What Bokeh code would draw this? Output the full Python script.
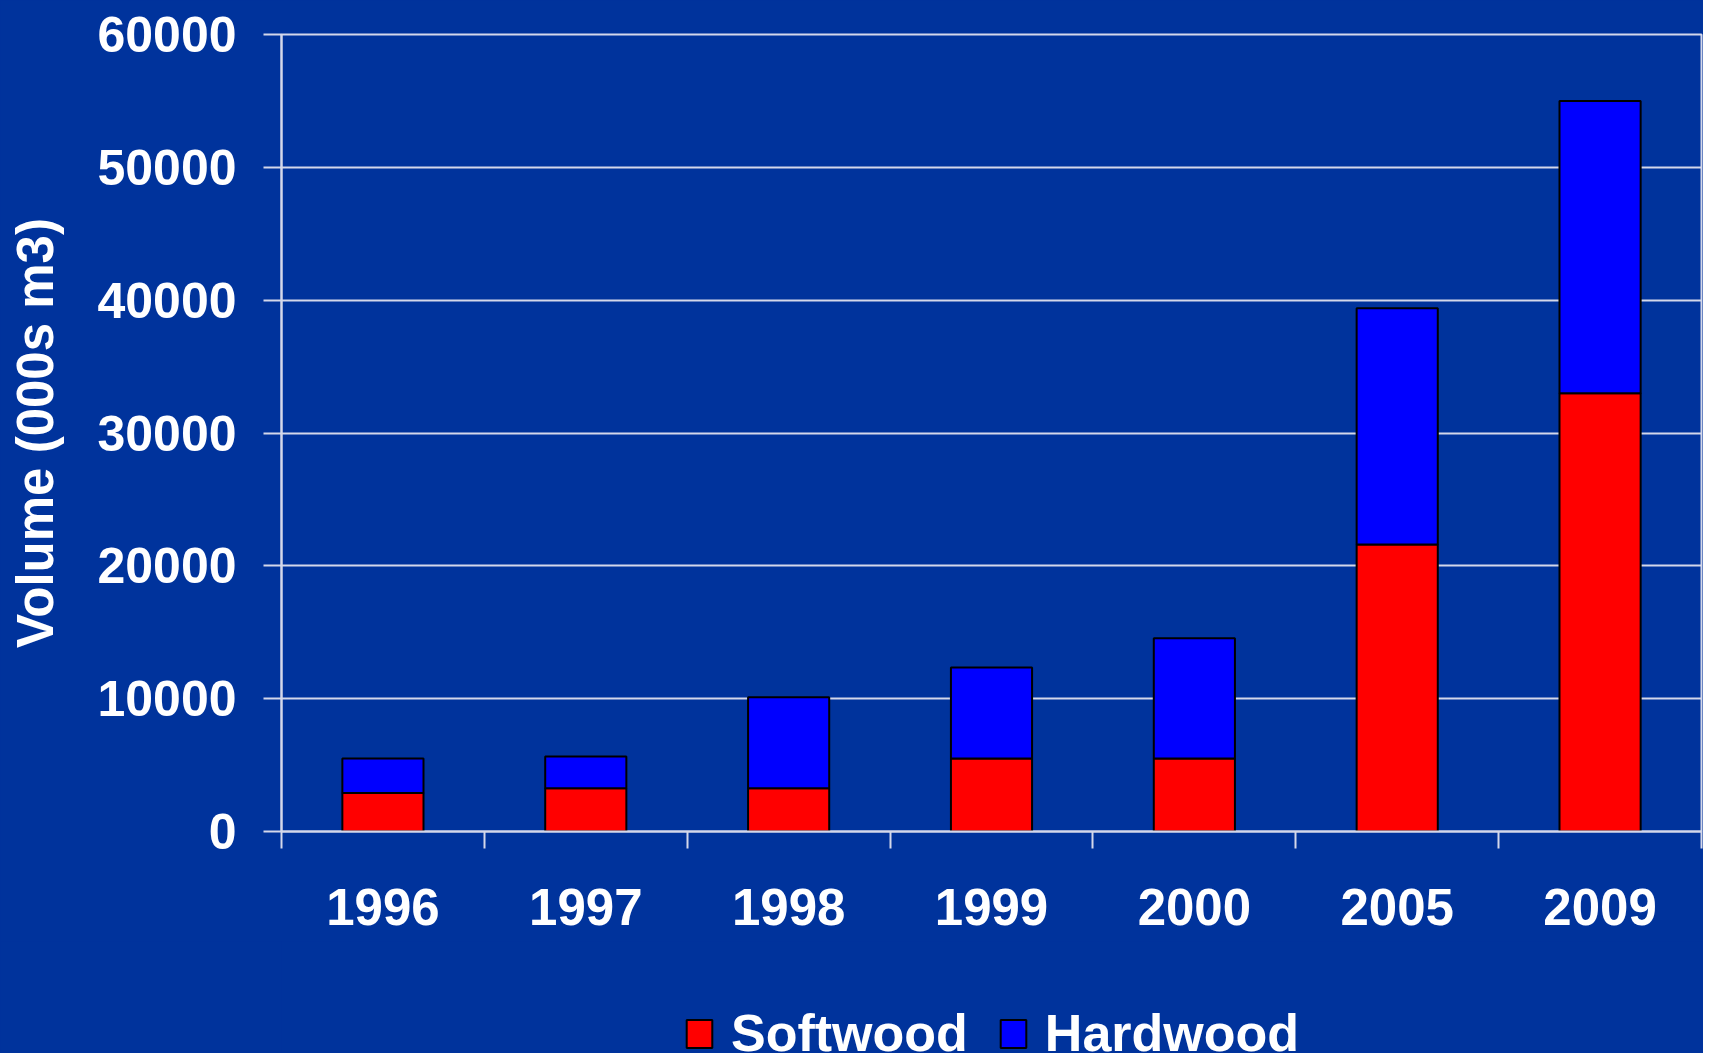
from bokeh.plotting import figure
from bokeh.layouts import column
from bokeh.models import ColumnDataSource, Range1d, FixedTicker, NumeralTickFormatter, Legend
from bokeh.embed import file_html
from bokeh.resources import INLINE

years = ["1996", "1997", "1998", "1999", "2000", "2005", "2009"]
softwood = [2900, 3250, 3250, 5500, 5500, 21600, 33000]
hardwood = [2600, 2400, 6850, 6850, 9050, 17800, 22000]
y_ticks = [0, 10000, 20000, 30000, 40000, 50000, 60000]
series = ["Softwood", "Hardwood"]
colors = ["#FF0000", "#0000FF"]

BG = "#00339C"
FG = "#FFFFFF"
GRID = "#D4D8EA"
FONT = "Liberation Sans"

n = len(years)
centers = [i + 0.5 for i in range(n)]
bounds = list(range(n + 1))

source = ColumnDataSource(dict(x=centers, Softwood=softwood, Hardwood=hardwood))

p = figure(frame_width=1420, frame_height=797, output_backend="svg", toolbar_location=None,
           x_range=Range1d(0, n), y_range=Range1d(0, 60000),
           min_border_left=281, min_border_top=34, min_border_right=2, min_border_bottom=110)
p.background_fill_color = BG
p.border_fill_color = BG
p.outline_line_color = GRID
p.outline_line_width = 2

p.vbar_stack(series, x="x", width=0.4, source=source,
             fill_color=colors, line_color="black", line_width=2)

# y axis
p.yaxis.ticker = FixedTicker(ticks=y_ticks)
p.yaxis.formatter = NumeralTickFormatter(format="0")
p.yaxis.axis_label = "Volume (000s m3)"
p.yaxis.axis_label_text_font = FONT
p.yaxis.axis_label_text_font_style = "bold"
p.yaxis.axis_label_text_font_size = "51px"
p.yaxis.axis_label_text_color = FG
p.yaxis.axis_label_standoff = 30
p.yaxis.major_label_text_font = FONT
p.yaxis.major_label_text_font_style = "bold"
p.yaxis.major_label_text_font_size = "50px"
p.yaxis.major_label_text_color = FG
p.yaxis.major_label_standoff = 27
p.yaxis.major_tick_out = 18
p.yaxis.major_tick_in = 0
p.yaxis.major_tick_line_color = GRID
p.yaxis.major_tick_line_width = 2
p.yaxis.minor_tick_line_color = None
p.yaxis.axis_line_color = GRID
p.yaxis.axis_line_width = 2

# x axis: labels at centers, ticks at category boundaries
p.xaxis.ticker = FixedTicker(ticks=centers, minor_ticks=bounds)
p.xaxis.major_label_overrides = {c: y for c, y in zip(centers, years)}
p.xaxis.major_label_text_font = FONT
p.xaxis.major_label_text_font_style = "bold"
p.xaxis.major_label_text_font_size = "51px"
p.xaxis.major_label_text_color = FG
p.xaxis.major_label_standoff = 40
p.xaxis.major_tick_out = 17
p.xaxis.major_tick_in = 0
p.xaxis.major_tick_line_color = None
p.xaxis.minor_tick_out = 17
p.xaxis.minor_tick_in = 0
p.xaxis.minor_tick_line_color = GRID
p.xaxis.minor_tick_line_width = 2
p.xaxis.axis_line_color = GRID
p.xaxis.axis_line_width = 2

p.xgrid.grid_line_color = None
p.ygrid.ticker = FixedTicker(ticks=y_ticks)
p.ygrid.grid_line_color = GRID
p.ygrid.grid_line_width = 2

# legend strip below the chart; its y range lies far above the data so its bars stay out of view
p2 = figure(width=1703, height=138, output_backend="svg", toolbar_location=None,
            x_range=Range1d(0, n), y_range=Range1d(100000, 100001),
            min_border_left=0, min_border_right=0, min_border_top=0, min_border_bottom=0)
p2.background_fill_color = BG
p2.border_fill_color = BG
p2.outline_line_color = None
p2.axis.visible = False
p2.grid.grid_line_color = None
leg_renderers = p2.vbar_stack(series, x="x", width=0.4, source=source,
                              fill_color=colors, line_color="black", line_width=2)

legend = Legend(items=[(s, [r]) for s, r in zip(series, leg_renderers)],
                orientation="horizontal", location=(402, 16))
legend.background_fill_alpha = 0
legend.border_line_color = None
legend.label_text_font = FONT
legend.label_text_font_style = "bold"
legend.label_text_font_size = "52px"
legend.label_text_color = FG
legend.glyph_width = 32
legend.glyph_height = 35
legend.label_standoff = 16
legend.spacing = 29
legend.padding = 0
legend.margin = 0
p2.add_layout(legend, "center")

layout = column(p, p2, spacing=0)
layout.styles = {"background-color": BG}

open("out.html", "w").write(file_html(layout, INLINE))
